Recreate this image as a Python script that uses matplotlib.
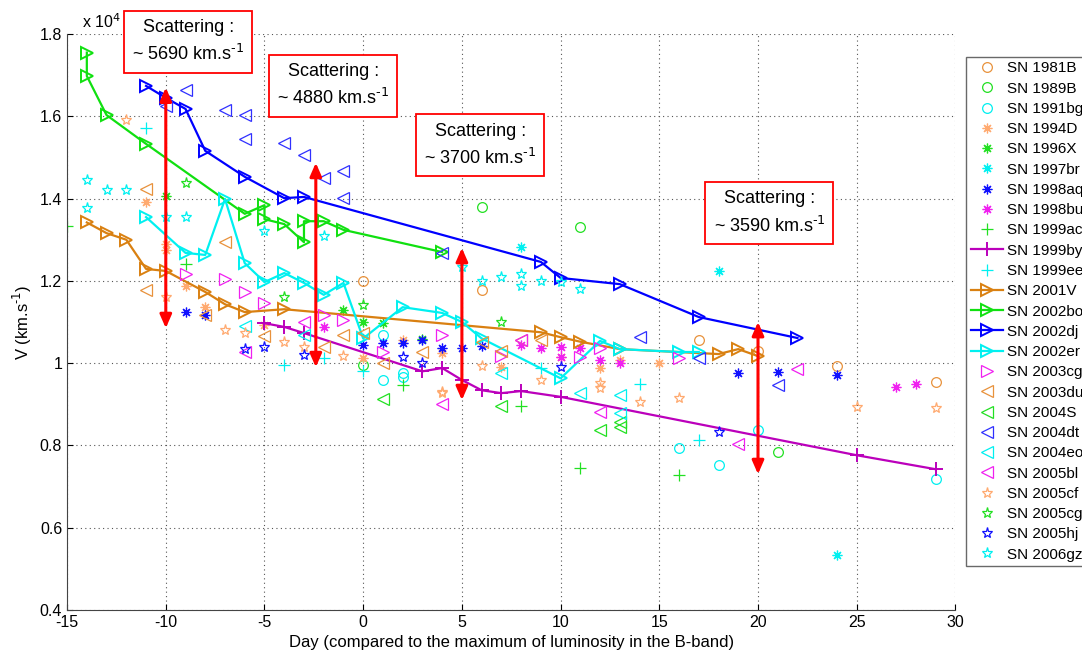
import numpy as np
import matplotlib
matplotlib.use('Agg')
import matplotlib.pyplot as plt

plt.rcParams['font.family'] = ['Liberation Sans', 'DejaVu Sans']
plt.rcParams['axes.unicode_minus'] = False

# velocities in units of 1e4 km/s, days relative to B max
sn1981b_d = [0, 6, 17, 20, 24, 29]
sn1981b_v = [1.20, 1.177, 1.056, 1.03, 0.993, 0.954]
sn1989b_d = [0, 6, 11, 21]
sn1989b_v = [0.995, 1.38, 1.33, 0.784]
sn1991bg_d = [1, 1, 2, 2, 16, 18, 20, 29]
sn1991bg_v = [1.068, 0.959, 0.976, 0.966, 0.793, 0.752, 0.837, 0.718]
sn1994d_d = [-11, -10, -10, -9, -8, -5, 0, 2, 4, 7, 10, 12, 13, 15]
sn1994d_v = [1.392, 1.29, 1.275, 1.187, 1.137, 1.092, 1.012, 1.056, 1.024, 0.99, 1.015, 0.988, 1.007, 1.0]
sn1996x_d = [-10, -1, 0, 1, 3]
sn1996x_v = [1.406, 1.13, 1.10, 1.097, 1.058]
sn1997br_d = [8, 18, 24]
sn1997br_v = [1.283, 1.224, 0.533]
sn1998aq_d = [-9, -8, 0, 1, 2, 3, 4, 5, 6, 19, 21, 24]
sn1998aq_v = [1.124, 1.117, 1.044, 1.048, 1.05, 1.056, 1.036, 1.036, 1.041, 0.976, 0.978, 0.97]
sn1998bu_d = [-2, 8, 9, 10, 10, 11, 12, 13, 27, 28]
sn1998bu_v = [1.088, 1.044, 1.036, 1.04, 1.015, 1.036, 1.007, 1.0, 0.942, 0.95]
sn1999ac_d = [-15, -9, 2, 8, 11, 16]
sn1999ac_v = [1.333, 1.241, 0.946, 0.895, 0.745, 0.728]
sn1999by_d = [-5, -4, -3, 3, 4, 5, 6, 7, 8, 10, 25, 29]
sn1999by_v = [1.097, 1.088, 1.073, 0.98, 0.988, 0.959, 0.934, 0.927, 0.932, 0.918, 0.776, 0.742]
sn1999ee_d = [-11, -4, -2, 0, 9, 14, 17]
sn1999ee_v = [1.572, 0.995, 1.012, 0.98, 0.988, 0.95, 0.813]
sn2001v_d = [-14, -13, -12, -11, -10, -8, -7, -6, -4, 9, 10, 11, 13, 18, 19, 20]
sn2001v_v = [1.342, 1.316, 1.30, 1.229, 1.224, 1.173, 1.143, 1.124, 1.131, 1.075, 1.063, 1.052, 1.034, 1.022, 1.034, 1.017]
sn2002bo_d = [-14, -14, -13, -11, -6, -5, -5, -4, -3, -3, -2, -1, 4]
sn2002bo_v = [1.755, 1.698, 1.603, 1.533, 1.363, 1.384, 1.35, 1.338, 1.294, 1.345, 1.345, 1.324, 1.27]
sn2002dj_d = [-11, -10, -9, -8, -6, -4, -3, 9, 10, 13, 17, 22]
sn2002dj_v = [1.674, 1.645, 1.618, 1.516, 1.453, 1.401, 1.404, 1.246, 1.207, 1.192, 1.112, 1.061]
sn2002er_d = [-11, -9, -8, -7, -6, -5, -4, -3, -2, -1, 0, 2, 4, 5, 6, 10, 12, 13, 16, 17]
sn2002er_v = [1.355, 1.268, 1.263, 1.399, 1.243, 1.197, 1.219, 1.195, 1.166, 1.195, 1.06, 1.136,
              1.122, 1.10, 1.06, 0.963, 1.054, 1.034, 1.027, 1.027]
sn2003cg_d = [-9, -7, -6, -5, -2, -1, 1, 4, 7, 11, 12, 16]
sn2003cg_v = [1.217, 1.205, 1.174, 1.146, 1.117, 1.105, 1.027, 1.068, 1.017, 1.015, 1.037, 1.012]
sn2003du_d = [-11, -7, -11, -8, -5, -2, -1, 0, 1, 3, 6, 7, 8, 9]
sn2003du_v = [1.423, 1.294, 1.178, 1.117, 1.066, 1.04, 1.068, 1.072, 1.0, 1.027, 1.051, 1.03, 1.056, 1.056]
sn2004s_d = [1, 7, 12, 13, 13]
sn2004s_v = [0.912, 0.895, 0.837, 0.845, 0.857]
sn2004dt_d = [-10, -9, -7, -6, -6, -4, -3, -2, -1, -1, 4, 14, 17, 21]
sn2004dt_v = [1.625, 1.664, 1.616, 1.603, 1.545, 1.535, 1.505, 1.449, 1.466, 1.401, 1.268, 1.063, 1.012, 0.946]
sn2004eo_d = [-6, -3, 7, 11, 13, 13]
sn2004eo_v = [1.09, 1.068, 0.976, 0.927, 0.922, 0.878]
sn2005bl_d = [-6, -3, 4, 8, 12, 19, 22]
sn2005bl_v = [1.027, 1.10, 0.90, 1.056, 0.88, 0.803, 0.985]
sn2005cf_d = [-12, -10, -7, -6, -4, -3, -1, 4, 4, 6, 9, 12, 12, 14, 16, 25, 29]
sn2005cf_v = [1.59, 1.16, 1.08, 1.073, 1.052, 1.04, 1.017, 0.927, 0.93, 0.993, 0.959, 0.951, 0.94,
              0.905, 0.916, 0.893, 0.891]
sn2005cg_d = [-9, -4, 0, 7]
sn2005cg_v = [1.438, 1.16, 1.141, 1.10]
sn2005hj_d = [-6, -5, -3, 2, 3, 10, 18]
sn2005hj_v = [1.034, 1.04, 1.02, 1.015, 1.0, 0.99, 0.832]
sn2006gz_d = [-14, -13, -12, -14, -10, -9, -5, -2, 5, 6, 7, 8, 8, 9, 10, 11]
sn2006gz_v = [1.445, 1.421, 1.421, 1.377, 1.355, 1.355, 1.32, 1.31, 1.234, 1.20, 1.21, 1.217, 1.187,
              1.20, 1.197, 1.18]

# scattering arrows: day, bottom, top, label
arrow_day = [-10, -2.4, 5, 20]
arrow_low = [1.085, 0.99, 0.91, 0.73]
arrow_high = [1.67, 1.487, 1.28, 1.10]
scatter_text = ['5690', '4880', '3700', '3590']
box_x = [-8.87, -1.52, 5.93, 20.58]
box_y = [1.781, 1.674, 1.53, 1.365]

orange = '#e8923c'
peach = '#ffaa70'
green = '#22e022'
cyan = '#00f0f0'
blue = '#1010ff'
magenta = '#f020f0'
ast = (8, 2, 0)
unit = r'km.s$^{\text{-1}}$'

fig = plt.figure(figsize=(10.82, 6.68), dpi=100)
ax = fig.add_axes([0.062, 0.087, 0.821, 0.862])

def pts(d, v, m, c, lab, ms=6):
    ax.plot(d, v, ls='none', marker=m, mfc='none', mec=c, ms=ms, mew=0.9, label=lab)

def line(d, v, m, c, lab, ms=9):
    ax.plot(d, v, '-', color=c, lw=1.6, marker=m, mfc='none', mec=c, ms=ms, mew=1.4, label=lab)

pts(sn1981b_d, sn1981b_v, 'o', orange, 'SN 1981B', 7)
pts(sn1989b_d, sn1989b_v, 'o', green, 'SN 1989B', 7)
pts(sn1991bg_d, sn1991bg_v, 'o', cyan, 'SN 1991bg', 7)
pts(sn1994d_d, sn1994d_v, ast, peach, 'SN 1994D', 7)
pts(sn1996x_d, sn1996x_v, ast, green, 'SN 1996X', 7)
pts(sn1997br_d, sn1997br_v, ast, cyan, 'SN 1997br', 7)
pts(sn1998aq_d, sn1998aq_v, ast, blue, 'SN 1998aq', 7)
pts(sn1998bu_d, sn1998bu_v, ast, magenta, 'SN 1998bu', 7)
pts(sn1999ac_d, sn1999ac_v, '+', green, 'SN 1999ac', 8)
line(sn1999by_d, sn1999by_v, '+', '#bb00bb', 'SN 1999by', 10)
pts(sn1999ee_d, sn1999ee_v, '+', cyan, 'SN 1999ee', 8)
line(sn2001v_d, sn2001v_v, '>', '#d98011', 'SN 2001V')
line(sn2002bo_d, sn2002bo_v, '>', '#10e010', 'SN 2002bo')
line(sn2002dj_d, sn2002dj_v, '>', '#0000ff', 'SN 2002dj')
line(sn2002er_d, sn2002er_v, '>', '#00f0f0', 'SN 2002er')
pts(sn2003cg_d, sn2003cg_v, '>', magenta, 'SN 2003cg', 8)
pts(sn2003du_d, sn2003du_v, '<', orange, 'SN 2003du', 8)
pts(sn2004s_d, sn2004s_v, '<', green, 'SN 2004S', 8)
pts(sn2004dt_d, sn2004dt_v, '<', '#3030ff', 'SN 2004dt', 8)
pts(sn2004eo_d, sn2004eo_v, '<', cyan, 'SN 2004eo', 8)
pts(sn2005bl_d, sn2005bl_v, '<', magenta, 'SN 2005bl', 8)
pts(sn2005cf_d, sn2005cf_v, '*', peach, 'SN 2005cf', 8)
pts(sn2005cg_d, sn2005cg_v, '*', green, 'SN 2005cg', 8)
pts(sn2005hj_d, sn2005hj_v, '*', blue, 'SN 2005hj', 8)
pts(sn2006gz_d, sn2006gz_v, '*', cyan, 'SN 2006gz', 8)

for d, lo, hi in zip(arrow_day, arrow_low, arrow_high):
    ax.annotate('', xy=(d, hi), xytext=(d, lo),
                arrowprops=dict(arrowstyle='<|-|>,head_length=0.8,head_width=0.35',
                                color='#ff0000', lw=2.2, shrinkA=0, shrinkB=0))

for bx, by, s in zip(box_x, box_y, scatter_text):
    ax.text(bx, by, 'Scattering :\n~ ' + s + ' ' + unit, ha='center', va='center',
            fontsize=13, linespacing=1.5, clip_on=False, zorder=10,
            bbox=dict(boxstyle='square,pad=0.45', fc='white', ec='#ff0000', lw=1.3))

ax.set_xlim(-15, 30)
ax.set_ylim(0.4, 1.8)
ax.set_xticks(np.arange(-15, 31, 5))
ax.set_yticks(np.arange(0.4, 1.81, 0.2))
ax.set_yticklabels(['%g' % t for t in np.arange(0.4, 1.81, 0.2).round(1)])
ax.tick_params(direction='in', length=4, labelsize=11.5, top=False, right=False)
ax.grid(True, linestyle=(0, (1, 3)), color='#555555', lw=0.8)
for s in ['top', 'right']:
    ax.spines[s].set_visible(False)
ax.spines['left'].set_color('#444444')
ax.spines['bottom'].set_color('#444444')

ax.set_xlabel('Day (compared to the maximum of luminosity in the B-band)', fontsize=12)
ax.set_ylabel('V (' + unit + ')', fontsize=12)
ax.text(0.017, 1.005, r'x 10$^{4}$', transform=ax.transAxes, fontsize=11.5, va='bottom')

fig.legend(loc='upper left', bbox_to_anchor=(0.893, 0.915), fontsize=11, frameon=True,
           fancybox=False, edgecolor='#444444', labelspacing=0.41, handlelength=2.1,
           borderpad=0.3, handletextpad=0.3, borderaxespad=0)

fig.savefig('out.png', dpi=100)
